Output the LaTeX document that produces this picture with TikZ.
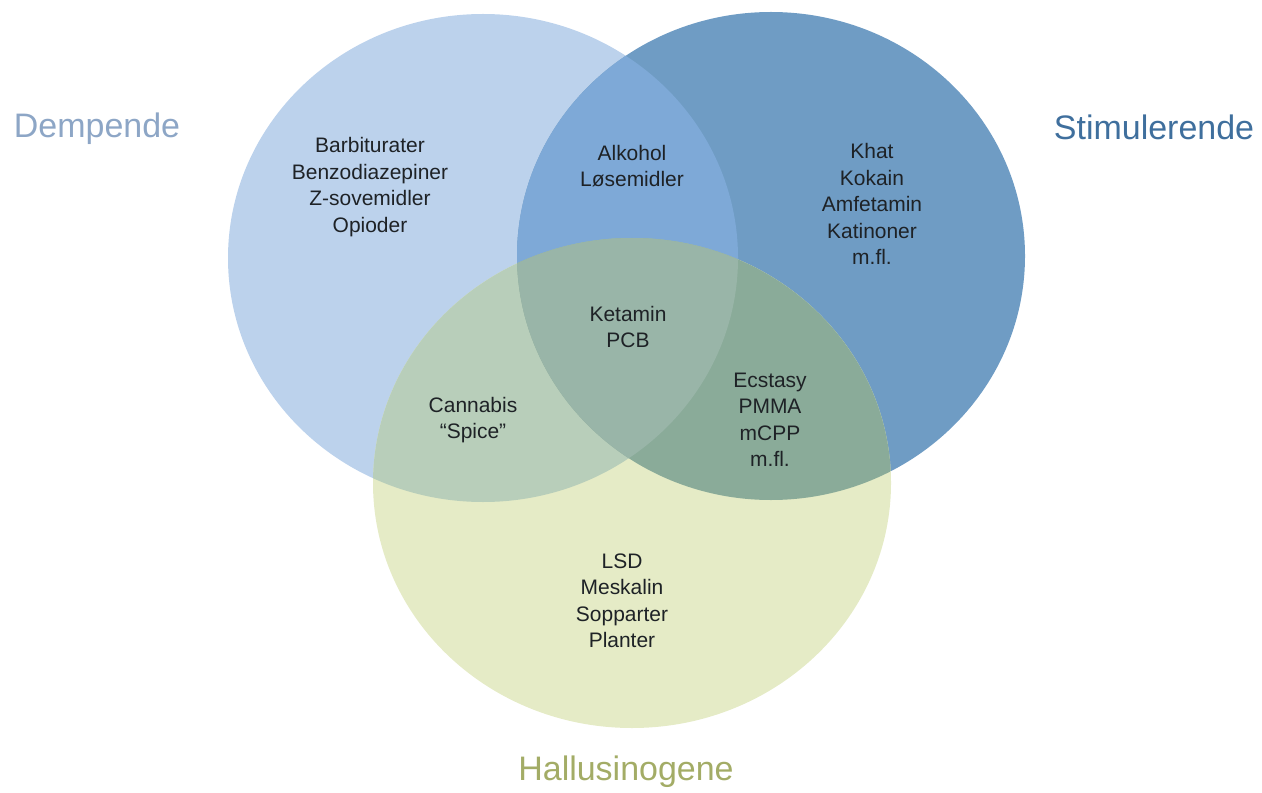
\documentclass[tikz,border=0pt]{standalone}
\usepackage{fontspec}
\setmainfont{Liberation Sans}
\usetikzlibrary{positioning}

\definecolor{dempblue}{HTML}{BCD2EC}
\definecolor{stimblue}{HTML}{6F9CC4}
\definecolor{hallgreen}{HTML}{E5EBC6}
\definecolor{dsblue}{HTML}{7EA9D7}
\definecolor{dhgreen}{HTML}{B8CEBA}
\definecolor{shgreen}{HTML}{8AAB99}
\definecolor{allgreen}{HTML}{99B5A8}
\definecolor{demptext}{HTML}{8DA6C6}
\definecolor{stimtext}{HTML}{3F6F9D}
\definecolor{halltext}{HTML}{A3AC66}
\definecolor{bodytext}{HTML}{1E2226}

\tikzset{
  drug/.style={align=center,text=bodytext,font=\fontsize{17.9pt}{22.6pt}\selectfont,inner sep=0pt},
  group/.style={font=\fontsize{29pt}{34pt}\selectfont,inner sep=0pt}
}

\def\dempcirc{(483,258) ellipse [x radius=255, y radius=244]}
\def\stimcirc{(771,256) ellipse [x radius=254, y radius=244]}
\def\hallcirc{(632,483) ellipse [x radius=259, y radius=245]}

\begin{document}
\begin{tikzpicture}[x=0.03cm,y=-0.03cm]
 \useasboundingbox (0,0) rectangle (1262,793);
 % the three groups
 \fill[dempblue] \dempcirc;
 \fill[stimblue] \stimcirc;
 \fill[hallgreen] \hallcirc;
 % overlaps
 \begin{scope}
  \clip \dempcirc;
  \fill[dsblue] \stimcirc;
  \fill[dhgreen] \hallcirc;
 \end{scope}
 \begin{scope}
  \clip \stimcirc;
  \fill[shgreen] \hallcirc;
 \end{scope}
 \begin{scope}
  \clip \dempcirc;
  \clip \stimcirc;
  \fill[allgreen] \hallcirc;
 \end{scope}
 % group names
 \node[group,text=demptext] (dempende) at (97,129) {Dempende};
 \node[group,text=stimtext] (stimulerende) at (1154,127) {Stimulerende};
 \node[group,text=halltext] (hallusinogene) at (626,772) {Hallusinogene};
 % drugs
 \node[drug] (dempdrugs) at (370,187) {Barbiturater\\Benzodiazepiner\\Z-sovemidler\\Opioder};
 \node[drug] (dsdrugs) at (632,166) {Alkohol\\Løsemidler};
 \node[drug] (stimdrugs) at (872,204) {Khat\\Kokain\\Amfetamin\\Katinoner\\m.fl.};
 \node[drug] (alldrugs) at (628,327) {Ketamin\\PCB};
 \node[drug] (dhdrugs) at (473,420) {Cannabis\\“Spice”};
 \node[drug] (shdrugs) at (770,420) {Ecstasy\\PMMA\\mCPP\\m.fl.};
 \node[drug] (halldrugs) at (622,601) {LSD\\Meskalin\\Sopparter\\Planter};
\end{tikzpicture}
\end{document}
